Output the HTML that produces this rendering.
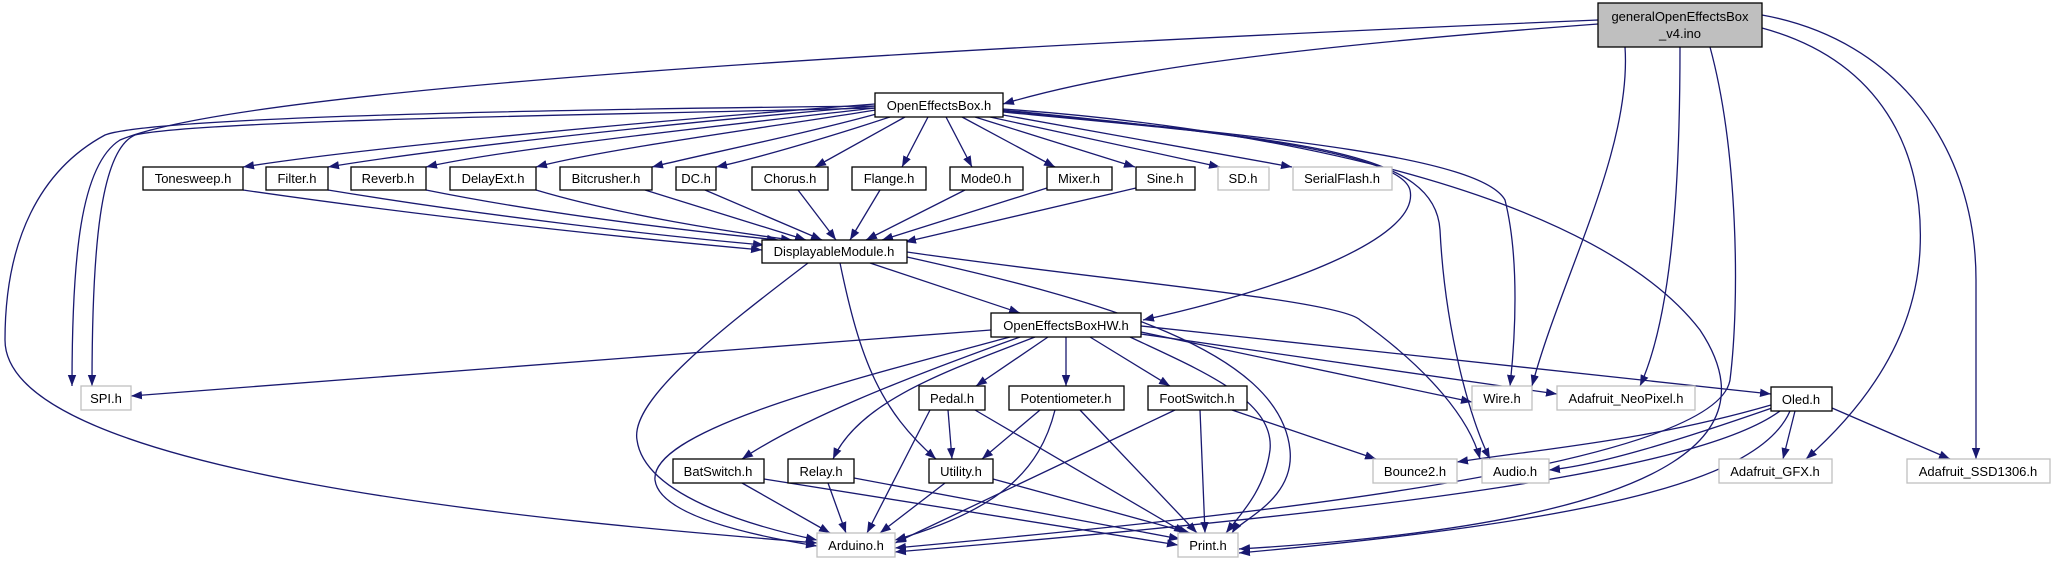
<!DOCTYPE html>
<html><head><meta charset="utf-8"><style>
html,body{margin:0;padding:0;background:#fff;}
svg{display:block;}
text{font-family:"Liberation Sans",sans-serif;font-size:13px;fill:#000;}
.e{fill:none;stroke:#191970;stroke-width:1.3;marker-end:url(#a);}
.b{fill:#fff;stroke:#000;stroke-width:1.3;}
.g{fill:#fff;stroke:#bfbfbf;stroke-width:1.3;}
</style></head><body>
<svg width="2055" height="563" viewBox="0 0 2055 563" xmlns="http://www.w3.org/2000/svg">
<defs><marker id="a" viewBox="0 0 10 10" refX="10" refY="5" markerWidth="11" markerHeight="11" markerUnits="userSpaceOnUse" orient="auto"><path d="M0,1.2L10,5L0,8.8z" fill="#191970"/></marker></defs>

<!-- ino edges -->
<path class="e" d="M1598,24 C1250,50 1100,75 1003,104"/>
<path class="e" d="M1598,20 C1000,45 250,85 120,140 C80,165 72,260 72,386"/>
<path class="e" d="M1625,47 C1632,150 1560,280 1532,386"/>
<path class="e" d="M1680,47 C1680,200 1670,320 1640,386"/>
<path class="e" d="M1710,47 C1738,150 1740,300 1730,380 C1715,470 1200,520 895,548"/>
<path class="e" d="M1762,28 C1880,60 1925,150 1920,250 C1915,350 1850,420 1806,459"/>
<path class="e" d="M1762,15 C1900,40 1976,150 1976,280 L1976,459"/>

<!-- OEB edges to row -->
<path class="e" d="M875,104 C600,125 350,150 243,167"/>
<path class="e" d="M875,106 C650,125 430,150 328,167"/>
<path class="e" d="M875,108 C700,128 500,150 426,167"/>
<path class="e" d="M876,110 C750,130 600,150 536,167"/>
<path class="e" d="M880,113 C800,135 700,155 652,167"/>
<path class="e" d="M890,117 C820,140 750,160 716,167"/>
<path class="e" d="M905,117 L815,167"/>
<path class="e" d="M928,117 L902,167"/>
<path class="e" d="M946,117 L972,167"/>
<path class="e" d="M962,117 L1055,167"/>
<path class="e" d="M975,117 L1135,167"/>
<path class="e" d="M990,117 L1220,167"/>
<path class="e" d="M1003,115 L1292,167"/>
<path class="e" d="M875,108 C600,115 200,120 135,135 C100,150 92,250 92,386"/>
<path class="e" d="M875,106 C500,110 150,118 105,135 C40,170 5,240 5,340 C5,480 600,525 817,543"/>
<path class="e" d="M1003,110 C1200,130 1400,150 1410,190 C1420,235 1300,285 1143,320"/>
<path class="e" d="M1003,112 C1300,140 1435,150 1440,230 C1445,330 1470,420 1490,459"/>
<path class="e" d="M1003,111 C1250,135 1480,155 1505,200 C1520,260 1515,340 1510,386"/>
<path class="e" d="M1003,109 C1300,130 1600,200 1700,330 C1760,420 1720,520 1239,549"/>

<!-- row to DM -->
<path class="e" d="M243,190 C450,220 650,240 762,250"/>
<path class="e" d="M328,190 C480,215 650,235 764,245"/>
<path class="e" d="M426,190 C550,215 700,232 778,240"/>
<path class="e" d="M536,190 C620,215 730,232 792,240"/>
<path class="e" d="M645,190 L806,240"/>
<path class="e" d="M705,190 L822,240"/>
<path class="e" d="M798,190 L836,240"/>
<path class="e" d="M880,190 L850,240"/>
<path class="e" d="M965,190 L866,240"/>
<path class="e" d="M1047,188 L882,240"/>
<path class="e" d="M1136,188 L905,242"/>

<!-- DM edges -->
<path class="e" d="M870,263 L1020,313"/>
<path class="e" d="M808,263 C720,330 630,400 637,440 C645,500 770,530 817,540"/>
<path class="e" d="M840,263 C860,360 880,410 936,459"/>
<path class="e" d="M907,257 C1100,300 1280,350 1290,450 C1295,500 1240,520 1232,533"/>
<path class="e" d="M907,252 C1100,280 1340,300 1360,320 C1430,370 1470,420 1480,459"/>

<!-- HW edges -->
<path class="e" d="M991,330 L131,396"/>
<path class="e" d="M1010,337 C850,380 650,430 655,480 C660,520 780,540 817,546"/>
<path class="e" d="M1020,337 C900,380 800,420 742,459"/>
<path class="e" d="M1035,337 C950,370 860,400 833,459"/>
<path class="e" d="M1048,337 L976,386"/>
<path class="e" d="M1066,337 L1066,386"/>
<path class="e" d="M1090,337 L1170,386"/>
<path class="e" d="M1130,337 C1200,370 1275,400 1270,450 C1265,490 1240,515 1226,533"/>
<path class="e" d="M1141,332 L1472,402"/>
<path class="e" d="M1141,334 L1557,394"/>
<path class="e" d="M1141,326 L1771,394"/>

<!-- mid row edges -->
<path class="e" d="M930,410 L867,533"/>
<path class="e" d="M948,410 L952,459"/>
<path class="e" d="M975,410 L1185,533"/>
<path class="e" d="M1040,410 L982,459"/>
<path class="e" d="M1055,410 C1040,470 1000,510 895,540"/>
<path class="e" d="M1080,410 L1197,533"/>
<path class="e" d="M1175,410 L895,543"/>
<path class="e" d="M1200,410 L1205,533"/>
<path class="e" d="M1232,410 L1376,459"/>
<path class="e" d="M742,483 L830,533"/>
<path class="e" d="M764,479 L1178,545"/>
<path class="e" d="M828,483 L846,533"/>
<path class="e" d="M854,478 L1180,539"/>
<path class="e" d="M945,483 L880,533"/>
<path class="e" d="M993,479 L1190,533"/>

<!-- Oled edges -->
<path class="e" d="M1771,405 C1650,440 1550,448 1457,462"/>
<path class="e" d="M1772,408 C1680,440 1600,465 1549,470"/>
<path class="e" d="M1795,411 L1783,459"/>
<path class="e" d="M1832,408 L1950,459"/>
<path class="e" d="M1780,411 C1700,470 1400,510 895,552"/>
<path class="e" d="M1790,411 C1760,480 1600,520 1239,553"/>

<!-- nodes -->
<rect x="1598" y="3" width="164" height="44" fill="#bfbfbf" stroke="#000" stroke-width="1.3"/>
<text x="1680" y="21" text-anchor="middle">generalOpenEffectsBox</text>
<text x="1680" y="38" text-anchor="middle">_v4.ino</text>

<g>
<rect class="b" x="875" y="93" width="128" height="24"/><text x="939" y="110" text-anchor="middle">OpenEffectsBox.h</text>
<rect class="b" x="143" y="167" width="100" height="23"/><text x="193" y="183" text-anchor="middle">Tonesweep.h</text>
<rect class="b" x="266" y="167" width="62" height="23"/><text x="297" y="183" text-anchor="middle">Filter.h</text>
<rect class="b" x="351" y="167" width="75" height="23"/><text x="388" y="183" text-anchor="middle">Reverb.h</text>
<rect class="b" x="450" y="167" width="86" height="23"/><text x="493" y="183" text-anchor="middle">DelayExt.h</text>
<rect class="b" x="560" y="167" width="92" height="23"/><text x="606" y="183" text-anchor="middle">Bitcrusher.h</text>
<rect class="b" x="676" y="167" width="40" height="23"/><text x="696" y="183" text-anchor="middle">DC.h</text>
<rect class="b" x="752" y="167" width="76" height="23"/><text x="790" y="183" text-anchor="middle">Chorus.h</text>
<rect class="b" x="852" y="167" width="74" height="23"/><text x="889" y="183" text-anchor="middle">Flange.h</text>
<rect class="b" x="950" y="167" width="73" height="23"/><text x="986" y="183" text-anchor="middle">Mode0.h</text>
<rect class="b" x="1047" y="167" width="65" height="23"/><text x="1079" y="183" text-anchor="middle">Mixer.h</text>
<rect class="b" x="1136" y="167" width="59" height="23"/><text x="1165" y="183" text-anchor="middle">Sine.h</text>
<rect class="g" x="1218" y="167" width="51" height="23"/><text x="1243" y="183" text-anchor="middle">SD.h</text>
<rect class="g" x="1293" y="167" width="99" height="23"/><text x="1342" y="183" text-anchor="middle">SerialFlash.h</text>
<rect class="b" x="762" y="240" width="145" height="23"/><text x="834" y="256" text-anchor="middle">DisplayableModule.h</text>
<rect class="b" x="991" y="313" width="150" height="24"/><text x="1066" y="330" text-anchor="middle">OpenEffectsBoxHW.h</text>
<rect class="g" x="81" y="386" width="50" height="24"/><text x="106" y="403" text-anchor="middle">SPI.h</text>
<rect class="b" x="919" y="386" width="66" height="24"/><text x="952" y="403" text-anchor="middle">Pedal.h</text>
<rect class="b" x="1009" y="386" width="115" height="24"/><text x="1066" y="403" text-anchor="middle">Potentiometer.h</text>
<rect class="b" x="1148" y="386" width="99" height="24"/><text x="1197" y="403" text-anchor="middle">FootSwitch.h</text>
<rect class="g" x="1472" y="386" width="60" height="24"/><text x="1502" y="403" text-anchor="middle">Wire.h</text>
<rect class="g" x="1557" y="386" width="138" height="24"/><text x="1626" y="403" text-anchor="middle">Adafruit_NeoPixel.h</text>
<rect class="b" x="1771" y="387" width="61" height="24"/><text x="1801" y="404" text-anchor="middle">Oled.h</text>
<rect class="b" x="673" y="459" width="91" height="24"/><text x="718" y="476" text-anchor="middle">BatSwitch.h</text>
<rect class="b" x="788" y="459" width="66" height="24"/><text x="821" y="476" text-anchor="middle">Relay.h</text>
<rect class="b" x="929" y="459" width="64" height="24"/><text x="961" y="476" text-anchor="middle">Utility.h</text>
<rect class="g" x="1373" y="459" width="84" height="24"/><text x="1415" y="476" text-anchor="middle">Bounce2.h</text>
<rect class="g" x="1482" y="459" width="67" height="24"/><text x="1515" y="476" text-anchor="middle">Audio.h</text>
<rect class="g" x="1719" y="459" width="113" height="24"/><text x="1775" y="476" text-anchor="middle">Adafruit_GFX.h</text>
<rect class="g" x="1907" y="459" width="143" height="24"/><text x="1978" y="476" text-anchor="middle">Adafruit_SSD1306.h</text>
<rect class="g" x="817" y="533" width="78" height="24"/><text x="856" y="550" text-anchor="middle">Arduino.h</text>
<rect class="g" x="1178" y="533" width="60" height="24"/><text x="1208" y="550" text-anchor="middle">Print.h</text>
</g>
</svg>
</body></html>
